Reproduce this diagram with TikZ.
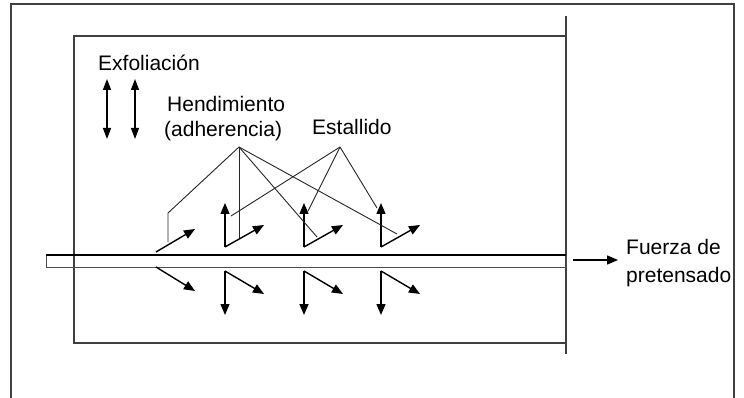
\documentclass[tikz,border=0pt]{standalone}
\usepackage{fontspec}
\setmainfont{Liberation Sans}
\usetikzlibrary{arrows.meta}
\begin{document}
\begin{tikzpicture}[x=1pt,y=-1pt,
  frame/.style={line width=1.5pt,draw=black!75},
  leader/.style={line width=0.9pt,draw=black!85},
  force/.style={line width=1.4pt,-{Triangle[length=11pt,width=9pt]}},
  dforce/.style={line width=1.4pt,{Triangle[length=11pt,width=8pt]}-{Triangle[length=11pt,width=8pt]}},
  lbl/.style={font=\fontsize{21}{24}\selectfont,anchor=base west,inner sep=0pt}]
\useasboundingbox (0,0) rectangle (744,398);
% outer frame (open at bottom)
\draw[frame] (11,398) -- (11,4) -- (734,4) -- (734,398);
% concrete member
\draw[frame] (566,36) -- (74,36) -- (74,343) -- (566,343);
\draw[frame] (566,16) -- (566,354);
% tendon
\draw[line width=0.9pt,draw=black!70] (46,255) rectangle (566,267);
\draw[line width=1.8pt] (46,255) -- (566,255);
% prestress force
\coordinate (fs) at (573,260);
\coordinate (fe) at (618,260);
\draw[force] (fs) -- (fe);
\node[lbl] (f1) at (626,254) {Fuerza de};
\node[lbl] (f2) at (626,282) {pretensado};
% labels
\node[lbl] (exf) at (98,71) {Exfoliación};
\node[lbl] (hen1) at (167,112) {Hendimiento};
\node[lbl] (hen2) at (164,137) {(adherencia)};
\node[lbl] (est) at (312,135) {Estallido};
% spalling arrows
\coordinate (e1a) at (107,79); \coordinate (e1b) at (107,139);
\coordinate (e2a) at (135,79); \coordinate (e2b) at (135,139);
\draw[dforce] (e1a) -- (e1b);
\draw[dforce] (e2a) -- (e2b);
% upper force groups
\coordinate (u1) at (156,252); \coordinate (u1d) at (195,229);
\draw[force] (u1) -- (u1d);
\foreach \x/\n in {225/2,304/3,381/4}{
  \coordinate (u\n) at (\x,247);
  \coordinate (u\n v) at (\x,203);
  \coordinate (u\n d) at (\x+39,225);
  \draw[force] (u\n) -- (u\n v);
  \draw[force] (u\n) -- (u\n d);
}
% lower force groups
\coordinate (l1) at (156,267); \coordinate (l1d) at (195,291);
\draw[force] (l1) -- (l1d);
\foreach \x/\n in {225/2,304/3,381/4}{
  \coordinate (l\n) at (\x,271);
  \coordinate (l\n v) at (\x,315);
  \coordinate (l\n d) at (\x+39,294);
  \draw[force] (l\n) -- (l\n v);
  \draw[force] (l\n) -- (l\n d);
}
% leaders from Hendimiento
\coordinate (ha) at (239,147);
\coordinate (h1) at (168,213); \coordinate (h1b) at (168,242);
\draw[leader] (ha) -- (h1) -- (h1b);
\coordinate (h2) at (239,238);
\draw[leader] (ha) -- (h2);
\coordinate (h3) at (317,237);
\draw[leader] (ha) -- (h3);
\coordinate (h4) at (397,234);
\draw[leader] (ha) -- (h4);
% leaders from Estallido
\coordinate (sa) at (340,147);
\coordinate (s1) at (231,216);
\coordinate (s2) at (308,211);
\coordinate (s3) at (377,208);
\draw[leader] (sa) -- (s1);
\draw[leader] (sa) -- (s2);
\draw[leader] (sa) -- (s3);
\end{tikzpicture}
\end{document}
